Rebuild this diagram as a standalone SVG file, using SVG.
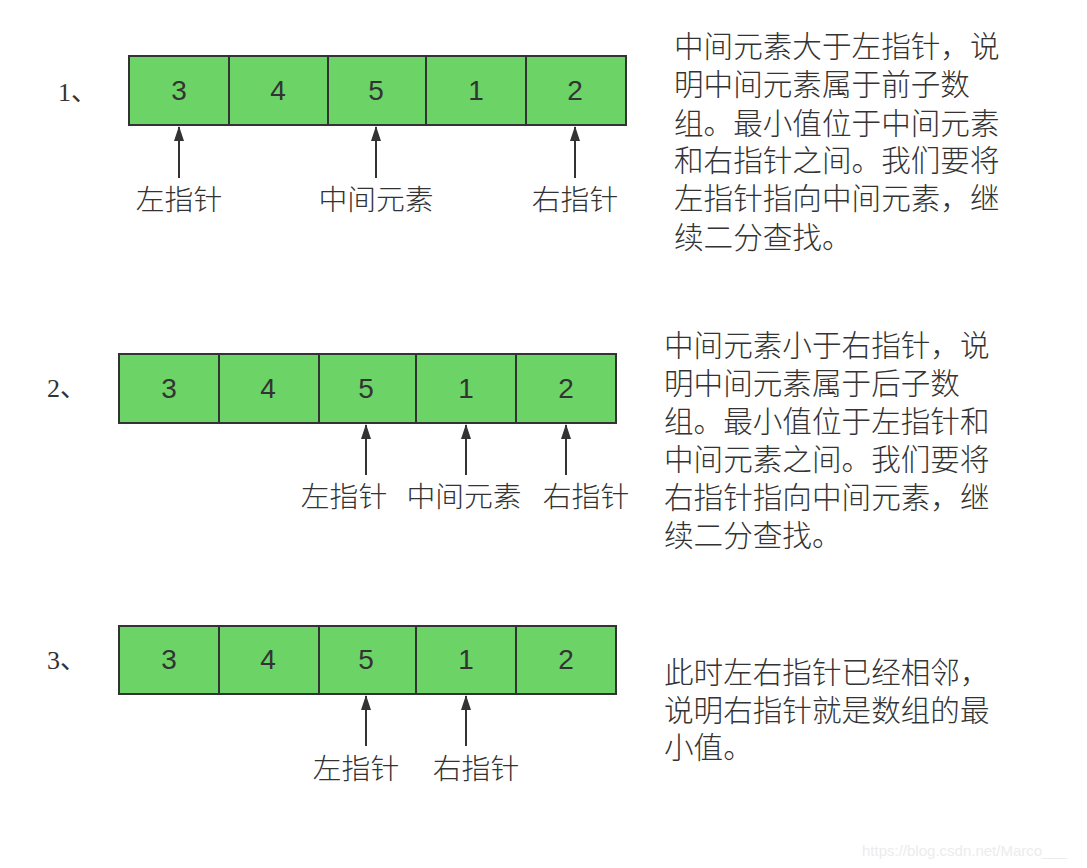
<svg xmlns="http://www.w3.org/2000/svg" width="1087" height="868" viewBox="0 0 1087 868">
<style>
.cell{fill:#6cd466;stroke:#333;stroke-width:2}
.num{font-family:"Liberation Sans",Arial,sans-serif;font-size:28px;fill:#333;text-anchor:middle}
.cn{font-family:"Noto Sans CJK SC",sans-serif;font-size:29.6px;fill:#333;font-weight:300}
.lbl{font-family:"Noto Sans CJK SC",sans-serif;font-size:28.8px;fill:#333;text-anchor:middle;font-weight:300}
.idx{font-family:"Liberation Serif","Noto Sans CJK SC",serif;font-size:26px;fill:#333}
.arr{stroke:#333;stroke-width:2;fill:none;marker-end:url(#ah)}
</style>
<defs>
<marker id="ah" viewBox="0 0 15 10" refX="14" refY="5" markerWidth="15" markerHeight="10" markerUnits="userSpaceOnUse" orient="auto">
<path d="M0,0 L15,5 L0,10 Z" fill="#333"/>
</marker>
</defs>
<rect width="1087" height="868" fill="#fff"/>

<g id="row1">
<text class="idx" x="58" y="101">1、</text>
<rect class="cell" x="129" y="56" width="100" height="69"/>
<rect class="cell" x="229" y="56" width="99" height="69"/>
<rect class="cell" x="328" y="56" width="98" height="69"/>
<rect class="cell" x="426" y="56" width="100" height="69"/>
<rect class="cell" x="526" y="56" width="100" height="69"/>
<text class="num" x="179" y="100">3</text>
<text class="num" x="278" y="100">4</text>
<text class="num" x="376" y="100">5</text>
<text class="num" x="476" y="100">1</text>
<text class="num" x="575" y="100">2</text>
</g>

<g id="row2">
<text class="idx" x="47" y="397">2、</text>
<rect class="cell" x="119" y="354" width="100" height="69"/>
<rect class="cell" x="219" y="354" width="100" height="69"/>
<rect class="cell" x="319" y="354" width="97" height="69"/>
<rect class="cell" x="416" y="354" width="100" height="69"/>
<rect class="cell" x="516" y="354" width="100" height="69"/>
<text class="num" x="169" y="398">3</text>
<text class="num" x="268" y="398">4</text>
<text class="num" x="366" y="398">5</text>
<text class="num" x="466" y="398">1</text>
<text class="num" x="566" y="398">2</text>
</g>

<g id="row3">
<text class="idx" x="47" y="669">3、</text>
<rect class="cell" x="119" y="626" width="100" height="68"/>
<rect class="cell" x="219" y="626" width="100" height="68"/>
<rect class="cell" x="319" y="626" width="97" height="68"/>
<rect class="cell" x="416" y="626" width="100" height="68"/>
<rect class="cell" x="516" y="626" width="100" height="68"/>
<text class="num" x="169" y="669">3</text>
<text class="num" x="268" y="669">4</text>
<text class="num" x="366" y="669">5</text>
<text class="num" x="466" y="669">1</text>
<text class="num" x="566" y="669">2</text>
</g>

<g id="connectors">
<line class="arr" x1="179" y1="178" x2="179" y2="127"/>
<line class="arr" x1="376" y1="178" x2="376" y2="127"/>
<line class="arr" x1="575" y1="178" x2="575" y2="127"/>
<line class="arr" x1="366" y1="475" x2="366" y2="425"/>
<line class="arr" x1="466" y1="475" x2="466" y2="425"/>
<line class="arr" x1="566" y1="475" x2="566" y2="425"/>
<line class="arr" x1="366" y1="746" x2="366" y2="696"/>
<line class="arr" x1="466" y1="746" x2="466" y2="696"/>
</g>

<g id="labels">
<text class="lbl" x="179" y="210">左指针</text>
<text class="lbl" x="376" y="210">中间元素</text>
<text class="lbl" x="575" y="210">右指针</text>
<text class="lbl" x="344" y="507">左指针</text>
<text class="lbl" x="464" y="507">中间元素</text>
<text class="lbl" x="586" y="507">右指针</text>
<text class="lbl" x="356" y="779">左指针</text>
<text class="lbl" x="476" y="779">右指针</text>
</g>

<g id="note1">
<text class="cn"><tspan x="674" y="57">中间元素大于左指针，说</tspan><tspan x="674" y="95">明中间元素属于前子数</tspan><tspan x="674" y="134">组。最小值位于中间元素</tspan><tspan x="674" y="171">和右指针之间。我们要将</tspan><tspan x="674" y="209">左指针指向中间元素，继</tspan><tspan x="674" y="248">续二分查找。</tspan></text>
</g>

<g id="note2">
<text class="cn"><tspan x="664" y="356">中间元素小于右指针，说</tspan><tspan x="664" y="394">明中间元素属于后子数</tspan><tspan x="664" y="432">组。最小值位于左指针和</tspan><tspan x="664" y="470">中间元素之间。我们要将</tspan><tspan x="664" y="508">右指针指向中间元素，继</tspan><tspan x="664" y="546">续二分查找。</tspan></text>
</g>

<g id="note3">
<text class="cn"><tspan x="664" y="683">此时左右指针已经相邻，</tspan><tspan x="664" y="721">说明右指针就是数组的最</tspan><tspan x="664" y="758">小值。</tspan></text>
</g>

<text x="862" y="856" font-family="Liberation Sans,Arial,sans-serif" font-size="15" fill="#ececec">https://blog.csdn.net/Marco___</text>
</svg>
